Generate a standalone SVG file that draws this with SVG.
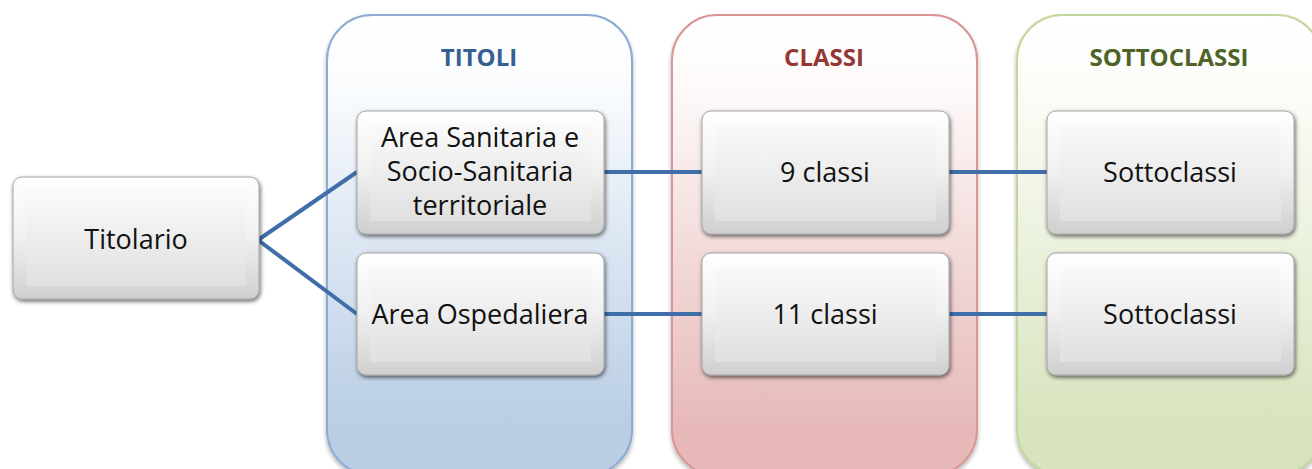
<svg xmlns="http://www.w3.org/2000/svg" width="1312" height="469" viewBox="0 0 1312 469">
<defs>
<linearGradient id="gBlue" x1="0" y1="0" x2="0" y2="1"><stop offset="0" stop-color="#FFFFFF"/><stop offset="0.15" stop-color="#FAFCFE"/><stop offset="0.9" stop-color="#B9CDE5"/></linearGradient>
<linearGradient id="gRed" x1="0" y1="0" x2="0" y2="1"><stop offset="0" stop-color="#FFFFFF"/><stop offset="0.15" stop-color="#FEFAFA"/><stop offset="0.9" stop-color="#E6B9B8"/></linearGradient>
<linearGradient id="gGreen" x1="0" y1="0" x2="0" y2="1"><stop offset="0" stop-color="#FFFFFF"/><stop offset="0.15" stop-color="#FCFDF9"/><stop offset="0.9" stop-color="#D7E4BD"/></linearGradient>
<linearGradient id="gBox" x1="0" y1="0" x2="0" y2="1"><stop offset="0" stop-color="#FFFFFF"/><stop offset="0.5" stop-color="#F0F0F0"/><stop offset="1" stop-color="#CFCFCF"/></linearGradient>
<linearGradient id="gFace" x1="0" y1="0" x2="0" y2="1"><stop offset="0" stop-color="#FAFAFA"/><stop offset="1" stop-color="#E0E0E0"/></linearGradient>
<filter id="sh" x="-10%" y="-10%" width="125%" height="130%"><feGaussianBlur in="SourceAlpha" stdDeviation="2"/><feOffset dx="1" dy="2"/><feComponentTransfer><feFuncA type="linear" slope="0.6"/></feComponentTransfer><feMerge><feMergeNode/><feMergeNode in="SourceGraphic"/></feMerge></filter>
<filter id="csh" x="-5%" y="-5%" width="110%" height="110%"><feGaussianBlur in="SourceAlpha" stdDeviation="2"/><feOffset dx="0" dy="3"/><feComponentTransfer><feFuncA type="linear" slope="0.3"/></feComponentTransfer><feMerge><feMergeNode/><feMergeNode in="SourceGraphic"/></feMerge></filter>
</defs>
<style>
.btn{fill:url(#gBox);stroke:#A6A6A6;stroke-width:1;filter:url(#sh)}
.face{fill:url(#gFace);stroke:none}
.t{font-family:"Open Sans","Liberation Sans",sans-serif;font-size:27px;fill:#111;text-anchor:middle}
.h{font-family:"Open Sans","Liberation Sans",sans-serif;font-size:24px;font-weight:bold;text-anchor:middle}
.conn{stroke:#3F6EA8;stroke-width:4;fill:none}
</style>
<rect width="1312" height="469" fill="#FFFFFF"/>
<g id="titoli">
<rect x="327" y="15" width="305" height="460" rx="45" fill="url(#gBlue)" stroke="#8EABD3" stroke-width="2" filter="url(#csh)"/>
<text class="h" x="479" y="66" fill="#376092">TITOLI</text>
</g>
<g id="classi">
<rect x="672" y="15" width="305" height="460" rx="45" fill="url(#gRed)" stroke="#D99694" stroke-width="2" filter="url(#csh)"/>
<text class="h" x="824" y="66" fill="#953735">CLASSI</text>
</g>
<g id="sottoclassi">
<rect x="1017" y="15" width="305" height="460" rx="45" fill="url(#gGreen)" stroke="#C3D69B" stroke-width="2" filter="url(#csh)"/>
<text class="h" x="1169" y="66" fill="#4F6228">SOTTOCLASSI</text>
</g>
<g id="connectors">
<path class="conn" d="M258,240 L357,172"/>
<path class="conn" d="M258,240 L357,314"/>
<path class="conn" d="M604,172 L702,172"/>
<path class="conn" d="M604,314 L702,314"/>
<path class="conn" d="M949,172 L1047,172"/>
<path class="conn" d="M949,314 L1047,314"/>
</g>
<g id="n-titolario">
<rect class="btn" x="13" y="177" width="246" height="122" rx="9"/>
<rect class="face" x="26" y="190" width="220" height="96" rx="2"/>
<text class="t" x="136" y="249">Titolario</text>
</g>
<g id="n-area-sanitaria">
<rect class="btn" x="357" y="111" width="247" height="123" rx="9"/>
<rect class="face" x="370" y="124" width="221" height="97" rx="2"/>
<text class="t" x="480" y="147">Area Sanitaria e</text>
<text class="t" x="480" y="181">Socio-Sanitaria</text>
<text class="t" x="480" y="215">territoriale</text>
</g>
<g id="n-area-ospedaliera">
<rect class="btn" x="357" y="253" width="247" height="122" rx="9"/>
<rect class="face" x="370" y="266" width="221" height="96" rx="2"/>
<text class="t" x="480" y="324">Area Ospedaliera</text>
</g>
<g id="n-9classi">
<rect class="btn" x="702" y="111" width="247" height="123" rx="9"/>
<rect class="face" x="715" y="124" width="221" height="97" rx="2"/>
<text class="t" x="825" y="182">9 classi</text>
</g>
<g id="n-11classi">
<rect class="btn" x="702" y="253" width="247" height="122" rx="9"/>
<rect class="face" x="715" y="266" width="221" height="96" rx="2"/>
<text class="t" x="825" y="324">11 classi</text>
</g>
<g id="n-sotto1">
<rect class="btn" x="1047" y="111" width="247" height="123" rx="9"/>
<rect class="face" x="1060" y="124" width="221" height="97" rx="2"/>
<text class="t" x="1170" y="182">Sottoclassi</text>
</g>
<g id="n-sotto2">
<rect class="btn" x="1047" y="253" width="247" height="122" rx="9"/>
<rect class="face" x="1060" y="266" width="221" height="96" rx="2"/>
<text class="t" x="1170" y="324">Sottoclassi</text>
</g>
</svg>
